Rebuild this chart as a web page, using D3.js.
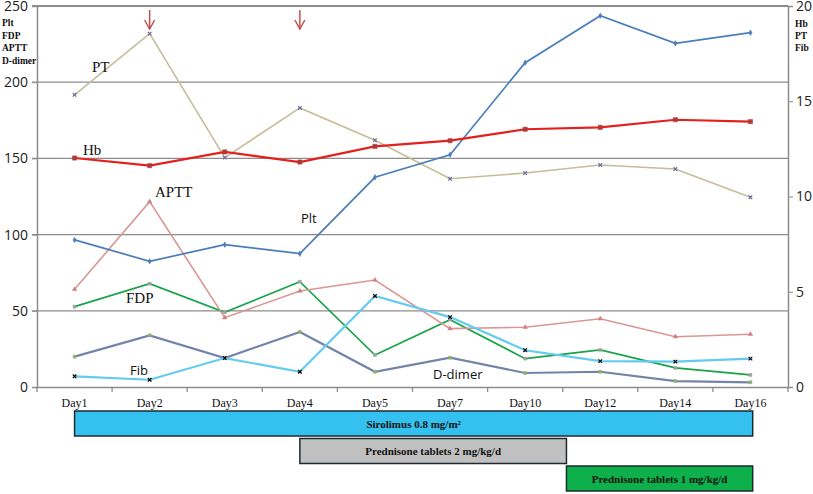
<!DOCTYPE html>
<html>
<head>
<meta charset="utf-8">
<script src="https://cdn.jsdelivr.net/npm/d3@7"></script>
<style>
  body { margin: 0; background: #fff; }
  svg { display: block; }
  .serif { font-family: "Liberation Serif", "DejaVu Serif", serif; }
  .sans { font-family: "Open Sans", "Liberation Sans", sans-serif; }
</style>
</head>
<body>
<div id="chart"></div>
<script>
// categories
var days = ["Day1","Day2","Day3","Day4","Day5","Day7","Day10","Day12","Day14","Day16"];

// left axis series
var plt    = [96.5, 82.5, 93.4, 87.5, 137.6, 152.4, 212.8, 243.6, 225.5, 232.5];
var aptt   = [64.1, 121.6, 45.5, 63.0, 70.2, 38.3, 39.2, 44.8, 33.0, 34.6];
var fdp    = [52.7, 67.8, 49.0, 69.1, 21.0, 44.2, 18.6, 24.3, 12.5, 7.9];
var dDimer = [19.9, 33.9, 19.0, 36.1, 10.0, 19.2, 9.2, 10.0, 3.9, 3.1];

// right axis series
var hb  = [12.02, 11.62, 12.34, 11.81, 12.63, 12.93, 13.53, 13.63, 14.03, 13.93];
var pt  = [15.34, 18.55, 12.04, 14.65, 12.95, 10.93, 11.23, 11.65, 11.44, 9.96];
var fib = [0.56, 0.38, 1.52, 0.80, 4.78, 3.67, 1.93, 1.36, 1.33, 1.49];

var leftTicks  = [0, 50, 100, 150, 200, 250];
var rightTicks = [0, 5, 10, 15, 20];
var leftTitles  = ["Plt", "FDP", "APTT", "D-dimer"];
var rightTitles = ["Hb", "PT", "Fib"];

// treatment periods, in day index (fractional)
var treatments = [
  {name: "Sirolimus 0.8 mg/m\u00b2",        from: 0, to: 9.03, fill: "#35C1EF"},
  {name: "Prednisone tablets 2 mg/kg/d", from: 3, to: 6.55, fill: "#C0C0C0"},
  {name: "Prednisone tablets 1 mg/kg/d", from: 6.55, to: 9.03, fill: "#0DB04B"}
];
var arrowDays = ["Day2", "Day4"];

var W = 813, H = 494;
var pLeft = 37, pRight = 788, pTop = 6, pBottom = 387;

var svg = d3.select("#chart").append("svg").attr("width", W).attr("height", H);

var x = d3.scaleBand().domain(days).range([pLeft, pRight]);
var cx = function(d){ return x(d) + x.bandwidth() / 2; };
var xi = d3.scaleLinear().domain([0, days.length - 1]).range([cx(days[0]), cx(days[days.length - 1])]);
var yL = d3.scaleLinear().domain([0, 250]).range([pBottom, pTop]);
var yR = d3.scaleLinear().domain([0, 20]).range([pBottom, pTop]);

// gridlines
svg.append("g").selectAll("line").data(leftTicks.slice(1)).enter().append("line")
  .attr("x1", pLeft - 5).attr("x2", pRight)
  .attr("y1", function(d){ return yL(d); }).attr("y2", function(d){ return yL(d); })
  .attr("stroke", "#8c8c8c").attr("stroke-width", function(d){ return d === 250 ? 2 : 1.3; });

// left axis
var la = svg.append("g").attr("transform", "translate(" + pLeft + ",0)")
  .call(d3.axisLeft(yL).tickValues(leftTicks).tickSize(5).tickFormat(d3.format("d")));
la.select(".domain").attr("stroke", "#8c8c8c").attr("stroke-width", 1.5);
la.selectAll(".tick line").attr("stroke", "#8c8c8c");
la.selectAll("text").attr("class", "sans").style("font-size", "14px").attr("fill", "#222").attr("dx", "-1");

// right axis
var ra = svg.append("g").attr("transform", "translate(" + pRight + ",0)")
  .call(d3.axisRight(yR).tickValues(rightTicks).tickSize(5).tickFormat(d3.format("d")));
ra.select(".domain").attr("stroke", "#8c8c8c").attr("stroke-width", 1.5);
ra.selectAll(".tick line").attr("stroke", "#8c8c8c");
ra.selectAll("text").attr("class", "sans").style("font-size", "14px").attr("fill", "#222");

// bottom axis
var ba = svg.append("g").attr("transform", "translate(0," + pBottom + ")")
  .call(d3.axisBottom(x).tickSize(0).tickPadding(11));
ba.select(".domain").attr("stroke", "#8c8c8c").attr("stroke-width", 1.5);
ba.selectAll("text").attr("class", "serif").style("font-size", "12px").attr("fill", "#111");
// category boundary ticks
svg.append("g").selectAll("line").data(d3.range(days.length + 1)).enter().append("line")
  .attr("x1", function(i){ return pLeft + i * x.bandwidth(); })
  .attr("x2", function(i){ return pLeft + i * x.bandwidth(); })
  .attr("y1", pBottom).attr("y2", pBottom + 5)
  .attr("stroke", "#8c8c8c").attr("stroke-width", 1.3);

// axis titles
svg.append("g").selectAll("text").data(leftTitles).enter().append("text")
  .attr("class", "serif").attr("x", 2).attr("y", function(d, i){ return 26 + i * 12.5; })
  .style("font-size", "9.5px").style("font-weight", "bold").attr("fill", "#111").text(function(d){ return d; });
svg.append("g").selectAll("text").data(rightTitles).enter().append("text")
  .attr("class", "serif").attr("x", 795).attr("y", function(d, i){ return 27 + i * 12; })
  .style("font-size", "9.5px").style("font-weight", "bold").attr("fill", "#111").text(function(d){ return d; });

// series
var series = [
  {vals: dDimer, y: yL, color: "#7483AA", w: 2.2, mark: "sq", mcolor: "#8DB36A"},
  {vals: fdp,    y: yL, color: "#18A348", w: 1.7, mark: "sq", mcolor: "#A0A0A0"},
  {vals: aptt,   y: yL, color: "#D99694", w: 1.6, mark: "tri", mcolor: "#D08080"},
  {vals: fib,    y: yR, color: "#63CBF0", w: 2.2, mark: "x", mcolor: "#000"},
  {vals: pt,     y: yR, color: "#C4BD97", w: 1.6, mark: "x", mcolor: "#6A6A9E"},
  {vals: plt,    y: yL, color: "#4A7EBB", w: 1.7, mark: "dia", mcolor: "#4A7EBB"},
  {vals: hb,     y: yR, color: "#E3201C", w: 2.2, mark: "sq", mcolor: "#B03A36"}
];

series.forEach(function(s){
  var line = d3.line().x(function(d, i){ return cx(days[i]); }).y(function(d){ return s.y(d); });
  var g = svg.append("g");
  g.append("path").datum(s.vals).attr("d", line)
    .attr("fill", "none").attr("stroke", s.color).attr("stroke-width", s.w);
  var sym = {sq: d3.symbolSquare, tri: d3.symbolTriangle, x: d3.symbolX, dia: d3.symbolDiamond}[s.mark];
  var size = s.mark === "x" ? 10 : (s.mark === "sq" && s.color === "#E3201C" ? 18 : 9);
  g.selectAll("path.m").data(s.vals).enter().append("path").attr("class", "m")
    .attr("d", d3.symbol().type(sym).size(size))
    .attr("transform", function(d, i){ return "translate(" + cx(days[i]) + "," + s.y(d) + ")"; })
    .attr("fill", s.mcolor).attr("stroke", s.mcolor).attr("stroke-width", s.mark === "x" ? 1.2 : 0.5);
});

// series labels
var labels = [
  {t: "PT", x: 92, y: 72, c: "serif"},
  {t: "Hb", x: 83, y: 155, c: "serif"},
  {t: "APTT", x: 155, y: 197, c: "serif"},
  {t: "FDP", x: 126, y: 303, c: "serif"},
  {t: "Plt", x: 301, y: 223, c: "sans"},
  {t: "Fib", x: 130, y: 375, c: "sans"},
  {t: "D-dimer", x: 433, y: 379, c: "sans"}
];
svg.append("g").selectAll("text").data(labels).enter().append("text")
  .attr("class", function(d){ return d.c; })
  .attr("x", function(d){ return d.x; }).attr("y", function(d){ return d.y; })
  .style("font-size", function(d){ return d.c === "serif" ? "15px" : "13px"; })
  .attr("fill", "#111").text(function(d){ return d.t; });

// arrows
var ag = svg.append("g").selectAll("g").data(arrowDays).enter().append("g")
  .attr("transform", function(d){ return "translate(" + cx(d) + ",0)"; })
  .attr("stroke", "#C0504D").attr("stroke-width", 1.5).attr("fill", "none");
ag.append("line").attr("x1", 0).attr("x2", 0).attr("y1", 10).attr("y2", 29);
ag.append("path").attr("d", "M-5,20 L0,29 L5,20");

// treatment bars
var bh = 25;
var tb = svg.append("g").selectAll("g").data(treatments).enter().append("g")
  .attr("transform", function(d, i){ return "translate(0," + (411 + i * 27.5) + ")"; });
tb.append("rect")
  .attr("x", function(d){ return xi(d.from); })
  .attr("width", function(d){ return xi(d.to) - xi(d.from); })
  .attr("height", bh).attr("fill", function(d){ return d.fill; })
  .attr("stroke", "#1f2a30").attr("stroke-width", 1.5);
tb.append("text").attr("class", "serif")
  .attr("x", function(d){ return (xi(d.from) + xi(d.to)) / 2; })
  .attr("y", bh / 2 + 4).attr("text-anchor", "middle")
  .style("font-size", "11px").style("font-weight", "bold").attr("fill", "#111")
  .text(function(d){ return d.name; });
</script>
</body>
</html>
